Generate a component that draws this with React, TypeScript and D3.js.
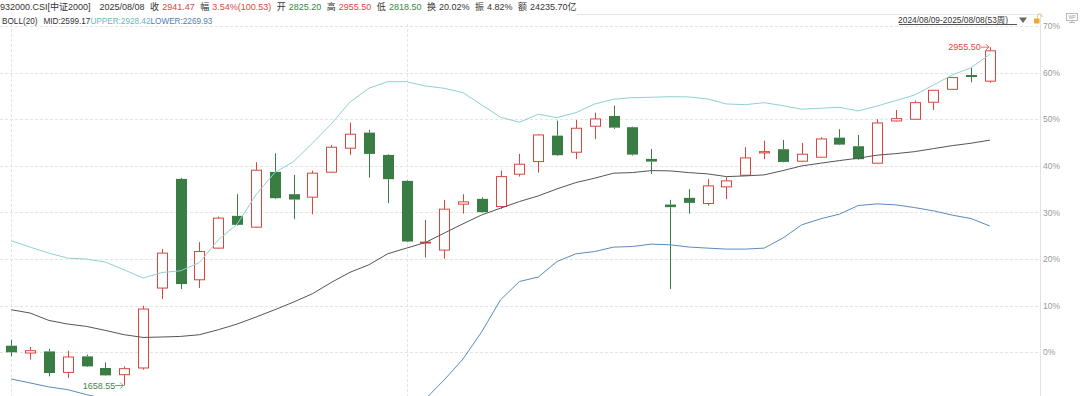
import React, { useEffect, useRef } from "react";
import * as d3 from "d3";

// weekly bars, 2024/08/09 - 2025/08/08 (53 weeks)
const weeks = d3.timeFriday.range(new Date(2024, 7, 9), new Date(2025, 7, 9));

const opens = [
  1811.3, 1783.3, 1789.4, 1709.0, 1770.3, 1725.9, 1700.2, 1725.9, 2032.2, 2450.6,
  2064.0, 2185.3, 2309.0, 2265.7, 2477.4, 2392.0, 2380.6, 2476.3, 2568.2, 2627.9,
  2542.5, 2443.0, 2204.5, 2177.7, 2353.8, 2374.1, 2344.6, 2468.6, 2516.9, 2616.4,
  2552.8, 2652.4, 2691.8, 2648.6, 2527.2, 2352.2, 2377.9, 2356.1, 2420.0, 2464.8,
  2550.2, 2564.3, 2518.4, 2533.7, 2608.7, 2575.8, 2510.7, 2672.7, 2679.2, 2744.3,
  2794.0, 2848.8, 2825.2,
];
const closes = [
  1786.0, 1792.1, 1706.7, 1768.0, 1732.0, 1697.6, 1723.2, 1951.8, 2166.2, 2047.5,
  2172.3, 2300.2, 2274.5, 2483.9, 2376.7, 2371.4, 2472.5, 2572.0, 2621.8, 2546.3,
  2449.5, 2210.6, 2208.3, 2334.6, 2362.6, 2323.1, 2459.4, 2506.9, 2619.1, 2541.4,
  2644.7, 2680.3, 2647.0, 2543.7, 2516.9, 2342.3, 2358.7, 2423.8, 2443.0, 2531.0,
  2555.1, 2515.7, 2545.2, 2603.8, 2582.0, 2526.1, 2665.0, 2681.5, 2742.7, 2790.2,
  2839.0, 2840.94, 2941.47,
];
const highs = [
  1834.2, 1806.3, 1799.8, 1792.1, 1776.8, 1747.3, 1732.0, 1964.4, 2181.5, 2454.0,
  2208.3, 2306.3, 2392.0, 2514.6, 2549.0, 2465.9, 2482.4, 2580.8, 2666.2, 2638.2,
  2545.0, 2445.0, 2293.7, 2370.2, 2392.0, 2380.6, 2482.4, 2546.3, 2621.8, 2673.8,
  2676.5, 2704.5, 2731.3, 2651.0, 2565.5, 2370.2, 2411.6, 2450.6, 2457.1, 2572.0,
  2597.3, 2600.0, 2588.5, 2610.3, 2640.9, 2619.1, 2679.2, 2714.8, 2750.4, 2791.0,
  2841.5, 2876.7, 2955.5,
];
const lows = [
  1770.3, 1757.7, 1693.7, 1687.6, 1729.7, 1696.0, 1658.55, 1719.4, 1990.1, 2028.3,
  2032.2, 2183.0, 2272.0, 2263.0, 2374.0, 2296.3, 2315.5, 2473.0, 2542.5, 2455.6,
  2357.6, 2208.0, 2149.3, 2144.3, 2317.8, 2321.0, 2335.8, 2459.4, 2474.7, 2539.0,
  2526.1, 2602.6, 2642.0, 2539.8, 2469.8, 2028.3, 2317.4, 2348.4, 2372.9, 2462.0,
  2526.1, 2514.0, 2514.6, 2532.0, 2580.0, 2523.4, 2509.0, 2671.0, 2678.0, 2714.8,
  2792.0, 2820.8, 2818.5,
];

// BOLL(20)
const bollMid = [
  1949.1, 1936.5, 1908.1, 1894.3, 1885.2, 1869.8, 1853.4, 1843.0, 1844.6, 1846.9,
  1853.4, 1872.5, 1894.3, 1921.1, 1949.1, 1978.6, 2010.3, 2053.6, 2092.7, 2121.4,
  2163.5, 2185.3, 2206.7, 2242.7, 2278.3, 2312.8, 2338.5, 2363.7, 2385.5, 2412.3,
  2436.5, 2453.3, 2472.5, 2474.7, 2482.4, 2481.3, 2474.7, 2469.8, 2459.4, 2462.1,
  2465.9, 2482.4, 2500.4, 2510.7, 2520.7, 2529.9, 2541.4, 2547.5, 2555.1, 2566.6,
  2578.1, 2587.3, 2599.17,
];
const bollUpper = [
  2213.3, 2189.1, 2166.2, 2147.0, 2143.2, 2131.7, 2102.2, 2070.5, 2091.9, 2098.4,
  2130.2, 2217.1, 2277.2, 2389.4, 2474.7, 2516.9, 2587.3, 2661.2, 2745.4, 2797.9,
  2823.1, 2823.1, 2806.7, 2797.9, 2781.0, 2733.9, 2686.8, 2667.7, 2698.3, 2685.3,
  2704.5, 2737.7, 2755.8, 2761.9, 2763.4, 2765.7, 2764.6, 2756.9, 2737.7, 2735.1,
  2742.7, 2731.3, 2717.5, 2721.3, 2725.1, 2711.0, 2730.1, 2750.4, 2772.2, 2810.5,
  2848.8, 2876.7, 2928.42,
];
const bollLower = [
  1683.8, 1668.5, 1653.2, 1642.8, 1623.7, 1607.9, 1604.6, 1615.5, 1597.3, 1595.4,
  1576.6, 1527.9, 1511.4, 1452.8, 1423.5, 1440.3, 1433.3, 1446.0, 1440.0, 1444.9,
  1503.9, 1547.5, 1606.7, 1680.0, 1760.0, 1865.0, 1987.4, 2057.4, 2074.3, 2134.0,
  2163.5, 2172.3, 2189.1, 2191.4, 2200.6, 2198.0, 2189.5, 2185.3, 2181.5, 2181.5,
  2185.3, 2223.6, 2274.5, 2297.5, 2315.5, 2348.4, 2354.9, 2351.1, 2340.7, 2328.1,
  2311.7, 2298.6, 2269.93,
];

const pctTicks = [0, 10, 20, 30, 40, 50, 60, 70];

const headerLabels = ["收", "幅", "开", "高", "低", "换", "振", "额"];
const headerValues = ["2941.47", "3.54%(100.53)", "2825.20", "2955.50", "2818.50", "20.02%", "4.82%", "24235.70亿"];
const headerTones = ["up", "up", "down", "up", "down", "", "", ""];

const RED = "#d9463e";
const GREEN = "#3a7d44";
const FONT = "'Liberation Sans', Arial, 'Noto Sans CJK SC', sans-serif";

export default function App() {
  const ref = useRef<SVGSVGElement>(null);

  useEffect(() => {
    const W = 1080;
    const H = 396;
    const axisX = 1040;
    const svg = d3.select(ref.current);
    svg.selectAll("*").remove();
    svg.attr("width", W).attr("height", H).attr("font-family", FONT);

    const fmt = d3.timeFormat("%Y/%m/%d");
    const keys = weeks.map((d) => fmt(d));
    const x = d3.scalePoint<string>().domain(keys).range([11.3, 989.9]);

    const base = closes[0];
    const y = d3.scaleLinear().domain([base, base * 1.7]).range([352.3, 26.1]);

    // grid
    const grid = svg.append("g");
    grid
      .selectAll("line.h")
      .data(pctTicks)
      .join("line")
      .attr("x1", 0)
      .attr("x2", axisX)
      .attr("y1", (d) => Math.round(y(base * (1 + d / 100))) + 0.5)
      .attr("y2", (d) => Math.round(y(base * (1 + d / 100))) + 0.5)
      .attr("stroke", "#e4e4e4")
      .attr("stroke-dasharray", "3,2");

    // year boundaries
    const vIdx = [0, weeks.findIndex((d) => d.getFullYear() === 2025)];
    grid
      .selectAll("line.v")
      .data(vIdx)
      .join("line")
      .attr("x1", (i) => Math.round(x(keys[i])!) + 0.5)
      .attr("x2", (i) => Math.round(x(keys[i])!) + 0.5)
      .attr("y1", 24)
      .attr("y2", H)
      .attr("stroke", "#e4e4e4")
      .attr("stroke-dasharray", "3,2");

    // right axis
    svg
      .append("line")
      .attr("x1", axisX + 0.5)
      .attr("x2", axisX + 0.5)
      .attr("y1", 14)
      .attr("y2", H)
      .attr("stroke", "#e2e2e2");
    svg
      .append("g")
      .selectAll("text")
      .data(pctTicks)
      .join("text")
      .attr("x", axisX + 3)
      .attr("y", (d) => y(base * (1 + d / 100)) + 3)
      .attr("font-size", 8.5)
      .attr("fill", "#9a9a9a")
      .text((d) => `${d}%`);

    // candles
    const candles = svg
      .append("g")
      .selectAll("g")
      .data(keys.map((k, i) => ({ k, o: opens[i], c: closes[i], h: highs[i], l: lows[i] })))
      .join("g");
    candles.each(function (d) {
      const g = d3.select(this);
      const cx = Math.round(x(d.k)!) + 0.5;
      const up = d.c >= d.o;
      const col = up ? RED : GREEN;
      const top = y(Math.max(d.o, d.c));
      const bot = y(Math.min(d.o, d.c));
      g.append("line").attr("x1", cx).attr("x2", cx).attr("y1", y(d.h)).attr("y2", top).attr("stroke", col);
      g.append("line").attr("x1", cx).attr("x2", cx).attr("y1", bot).attr("y2", y(d.l)).attr("stroke", col);
      const hgt = Math.max(1, bot - top);
      if (up) {
        g.append("rect")
          .attr("x", cx - 5)
          .attr("y", top)
          .attr("width", 10)
          .attr("height", hgt)
          .attr("fill", "#fff")
          .attr("stroke", col);
      } else {
        g.append("rect")
          .attr("x", cx - 5.5)
          .attr("y", top)
          .attr("width", 11)
          .attr("height", Math.max(1.5, hgt))
          .attr("fill", col);
      }
    });

    // boll lines
    const line = d3
      .line<number>()
      .x((_, i) => x(keys[i])!)
      .y((d) => y(d));
    const bands: [number[], string][] = [
      [bollMid, "#555"],
      [bollUpper, "#90cfd3"],
      [bollLower, "#5a8cbd"],
    ];
    svg
      .append("g")
      .selectAll("path")
      .data(bands)
      .join("path")
      .attr("d", (d) => line(d[0]))
      .attr("fill", "none")
      .attr("stroke", (d) => d[1])
      .attr("stroke-width", 1);

    // extreme labels
    const hi = d3.maxIndex(highs);
    const lo = d3.minIndex(lows);
    const marks = [
      { i: hi, v: highs[hi], col: RED, txt: highs[hi].toFixed(2) },
      { i: lo, v: lows[lo], col: "#3d8a4a", txt: lows[lo].toFixed(2) },
    ];
    marks.forEach((m) => {
      const cx = x(keys[m.i])!;
      const yy = y(m.v);
      svg
        .append("text")
        .attr("x", cx - 9)
        .attr("y", yy + 3)
        .attr("text-anchor", "end")
        .attr("font-size", 9)
        .attr("fill", m.col)
        .text(m.txt);
      svg
        .append("path")
        .attr("d", `M${cx - 9},${yy}H${cx - 1}M${cx - 4},${yy - 3}L${cx - 1},${yy}L${cx - 4},${yy + 3}`)
        .attr("fill", "none")
        .attr("stroke", m.col)
        .attr("stroke-width", 0.8);
    });

    // header row 1
    const h1 = svg.append("text").attr("x", 0).attr("y", 10).attr("font-size", 9).attr("fill", "#333");
    h1.append("tspan").text("932000.CSI[中证2000]");
    h1.append("tspan").attr("dx", 9).text(fmt(weeks[weeks.length - 1]));
    headerLabels.forEach((lab, i) => {
      h1.append("tspan").attr("dx", 5.5).text(lab);
      h1.append("tspan")
        .attr("dx", 3)
        .attr("fill", headerTones[i] === "up" ? RED : headerTones[i] === "down" ? "#2f8a3c" : "#333")
        .text(headerValues[i]);
    });

    // header row 2
    const last = bollMid.length - 1;
    const h2 = svg.append("text").attr("x", 2).attr("y", 24).attr("font-size", 8.2).attr("fill", "#333");
    h2.append("tspan").text("BOLL(20)");
    h2.append("tspan").attr("dx", 6).text(`MID:${bollMid[last].toFixed(2)}`);
    h2.append("tspan").attr("fill", "#5fb9be").text(`UPPER:${bollUpper[last].toFixed(2)}`);
    h2.append("tspan").attr("fill", "#4a7fb6").text(`LOWER:${bollLower[last].toFixed(2)}`);

    // header separator + range selector
    svg.append("line").attr("x1", 576).attr("x2", axisX).attr("y1", 14.5).attr("y2", 14.5).attr("stroke", "#e6e6e6");
    svg
      .append("text")
      .attr("x", 1008)
      .attr("y", 23)
      .attr("text-anchor", "end")
      .attr("font-size", 8.4)
      .attr("fill", "#333")
      .text(`${fmt(weeks[0])}-${fmt(weeks[weeks.length - 1])}(${weeks.length}周)`);
    svg.append("line").attr("x1", 899).attr("x2", 1017).attr("y1", 24.5).attr("y2", 24.5).attr("stroke", "#555");
    svg.append("path").attr("d", "M1019,17.5H1027L1023,23Z").attr("fill", "#666");
    svg.append("rect").attr("x", 1034).attr("y", 18.5).attr("width", 5.5).attr("height", 5).attr("fill", "#f0a830");
    svg
      .append("path")
      .attr("d", "M1037.5,18.5V16a2.2,2.2 0 0 1 4.4,0V17")
      .attr("fill", "none")
      .attr("stroke", "#f5c56a")
      .attr("stroke-width", 1);
    // tool icon
    svg.append("rect").attr("x", 1066.5).attr("y", 13.5).attr("width", 11).attr("height", 7).attr("fill", "#fff").attr("stroke", "#aaa").attr("stroke-width", 0.8);
    svg.append("text").attr("x", 1072).attr("y", 19).attr("text-anchor", "middle").attr("font-size", 4.5).attr("fill", "#999").text("WP");
    svg.append("line").attr("x1", 1072).attr("x2", 1072).attr("y1", 20.5).attr("y2", 22.5).attr("stroke", "#aaa").attr("stroke-width", 0.8);
    svg.append("line").attr("x1", 1069).attr("x2", 1075).attr("y1", 22.5).attr("y2", 22.5).attr("stroke", "#aaa").attr("stroke-width", 0.8);
  }, []);

  return (
    <div style={{ position: "absolute", left: 0, top: 0, background: "#fff" }}>
      <svg ref={ref} style={{ display: "block" }} />
    </div>
  );
}
